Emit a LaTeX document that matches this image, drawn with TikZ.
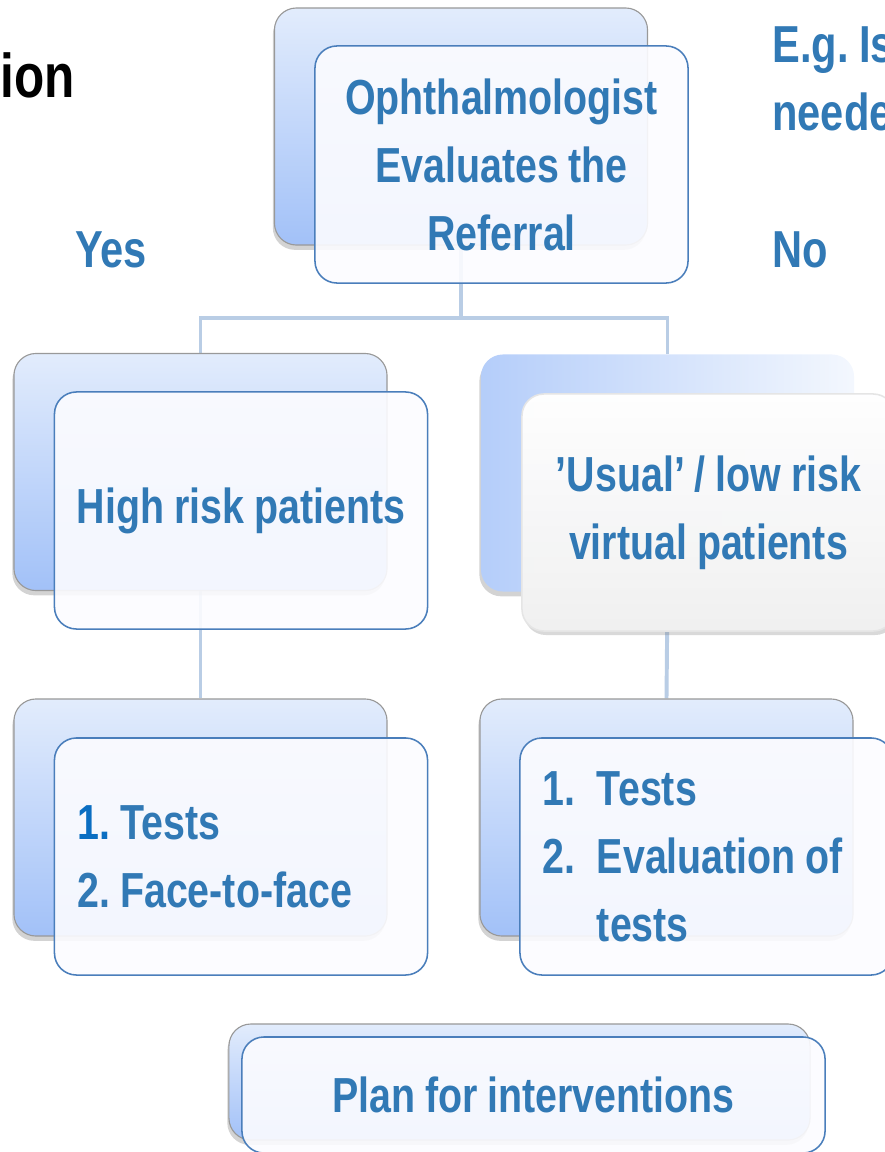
\documentclass[tikz,border=0pt]{standalone}
\usepackage{fontspec}
\setmainfont{Liberation Sans}[FakeStretch=0.8, WordSpace=0.9]
\usetikzlibrary{shadows,backgrounds}
\definecolor{txtblue}{HTML}{3179B5}
\definecolor{numblue}{HTML}{0A6EC2}
\definecolor{edgeblue}{HTML}{4A7EBB}
\definecolor{linkblue}{HTML}{B9CDE5}
\definecolor{backtop}{HTML}{E2ECFC}
\definecolor{backbot}{HTML}{A2C1F8}
\frenchspacing

\begin{document}
\begin{tikzpicture}[x=0.025cm, y=-0.025cm,
    every node/.style = {font=\fontsize{35}{48.4}\selectfont\bfseries, text=txtblue},
    back/.style = {rounded corners=0.55cm, minimum width=9.325cm, minimum height=5.925cm,
        top color=backtop, bottom color=backbot, draw=gray!80, line width=0.8pt,
        drop shadow={opacity=0.35, shadow xshift=-0.4mm, shadow yshift=-1.2mm}},
    front/.style = {rounded corners=0.55cm, minimum width=9.325cm, minimum height=5.925cm,
        draw=edgeblue, line width=1.1pt, fill=blue!1!white, fill opacity=0.9, text opacity=1,
        align=center},
    glossback/.style = {back, left color=backbot!80, right color=backtop!40, draw=none},
    glossfront/.style = {front, draw=gray!20, top color=white, bottom color=gray!12,
        drop shadow={opacity=0.3, shadow xshift=0.5mm, shadow yshift=-1mm}},
    listbox/.style = {front, align=flush left, text width=8.175cm, inner xsep=0.575cm},
    side/.style = {anchor=west, inner sep=0pt, font=\fontsize{37}{48.4}\selectfont\bfseries},
    link/.style = {draw=linkblue, line width=2.8pt}]

    \useasboundingbox (0,0) rectangle (885,1152);

    \node[back] (refb) at (461,126.5) {};
    \node[front] (ref) at (501.5,164.5) {Ophthalmologist\\Evaluates the\\Referral};

    \node[back] (highb) at (200.5,472) {};
    \node[front] (high) at (241,510.5) {High risk patients};

    \node[glossback] (lowb) at (667.5,473) {};
    \node[glossfront] (low) at (708.5,512.5) {'Usual' / low risk\\virtual patients};

    \node[back] (hteb) at (200.5,817.5) {};
    \node[listbox] (hte) at (241,856.5) {{\color{numblue}1.} Tests\\2. Face-to-face};

    \node[back] (lteb) at (666.5,817.5) {};
    \node[listbox] (lte) at (706.5,856.5) {\makebox[1.35cm][l]{1.}Tests\\
        \makebox[1.35cm][l]{2.}Evaluation of\\
        \hspace*{1.35cm}tests};

    \node[back, minimum width=14.525cm, minimum height=2.9cm] (planb) at (519.5,1082) {};
    \node[front, minimum width=14.575cm, minimum height=2.9cm] (plan) at (533.5,1095) {Plan for interventions};

    \node[side, text=black, font=\fontsize{44}{50}\selectfont\bfseries] (title) at (0,75) {ion};
    \node[side] (yes) at (75,250) {Yes};
    \node[side] (no) at (772,250) {No};
    \node[side] (eg1) at (772,50) {E.g. Is};
    \node[side] (eg2) at (772,112) {needed};

    \coordinate (split) at (refb.south |- 0,318);

    \begin{scope}[on background layer]
        \draw[link] (refb.south) -- (split);
        \draw[link] (highb.north) |- (split) -| (lowb.north);
        \draw[link] (highb.south) -- (hteb.north);
        \draw[link] (lowb.south) -- (lteb.north);
    \end{scope}

\end{tikzpicture}
\end{document}
